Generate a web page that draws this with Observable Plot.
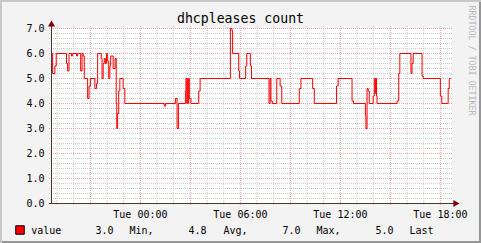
<!DOCTYPE html>
<html><head><meta charset="utf-8">
<script src="https://cdn.jsdelivr.net/npm/d3@7"></script>
<script src="https://cdn.jsdelivr.net/npm/@observablehq/plot@0.6"></script>
<style>
html,body{margin:0;padding:0;background:#f3f3f3;}
#chart{position:relative;width:481px;height:243px;background:#f3f3f3;box-shadow:inset 2px 2px 0 #c8c8c8, inset -2px -2px 0 #969696;overflow:hidden}
#chart svg{position:absolute;left:0;top:0;}
</style></head><body><div id="chart"></div>
<script>
// ---- data (minutes relative to Tue 00:00) ----
const title = "dhcpleases count";
const watermark = "RRDTOOL / TOBI OETIKER";
const seriesName = "value";
const minutes = [-320,-316,-308,-303,-266,-262,-257,-248,-245,-230,-226,-215,-210,-206,-202,-190,-185,-180,-164,-158,-154,-141,-138,-134,-130,-126,-122,-119,-114,-110,-107,-98,-91,-87,-85,-82,-78,-74,-62,-56,
  86,91,126,132,137,162,164,167,169,172,174,176,182,210,215,324,330,332,354,357,379,383,396,400,
  463,467,470,475,491,503,509,572,578,620,626,706,712,762,767,810,812,816,820,824,838,842,845,847,850,852,
  924,930,934,974,978,982,1014,1018,1080,1085,1108,1112,1116];
const values = [6.0,5.2,5.5,6.0,5.6,5.3,6.0,5.9,6.0,5.9,6.0,5.3,6.0,5.9,5.0,4.2,4.7,5.0,4.6,4.8,6.0,5.8,5.0,5.6,5.8,5.6,6.0,5.7,5.0,5.5,5.9,5.4,5.8,4.0,3.0,3.6,4.5,5.0,4.6,4.0,
  3.9,4.0,4.2,3.0,4.0,4.5,5.0,4.0,5.0,4.0,5.0,4.2,4.0,4.5,5.0,7.0,6.9,6.0,5.3,5.0,5.5,6.0,5.5,5.0,
  4.0,5.0,4.1,4.0,5.0,4.7,4.0,4.6,5.0,4.6,4.0,4.7,5.0,4.1,4.0,3.5,3.0,4.6,4.5,4.0,4.3,5.0,4.4,5.0,4.3,4.0,
  4.1,5.2,6.0,5.2,5.6,6.0,5.1,5.0,4.3,4.0,4.6,5.0,5.0];
const yMajor = [0,1,2,3,4,5,6,7];
const yMinor = d3.range(0, 35).map(i => i / 5).filter(v => !Number.isInteger(v));
const xMinorMinutes = d3.range(-300, 1120, 60);
const xMajorMinutes = d3.range(-180, 1120, 180);
const xLabelMinutes = [0, 360, 720, 1080];
const legendStats = [["3.0", "Min,"], ["4.8", "Avg,"], ["7.0", "Max,"], ["5.0", "Last"]];
const domainMinutes = [-320, 1120];

// ---- build ----
const base = Date.UTC(2024, 0, 2); // a Tuesday
const T = m => new Date(base + m * 60000);
const data = minutes.map((m, i) => ({t: T(m), v: values[i]}));
const xMinor = xMinorMinutes.filter(m => !xMajorMinutes.includes(m)).map(T);
const xMajor = xMajorMinutes.map(T);
const xLabels = xLabelMinutes.map(T);
const x0 = T(domainMinutes[0]);
const fmtX = d3.utcFormat("%a %H:%M");
const font = "DejaVu Sans Mono, monospace";
const minorCol = "#cccccc";
const majorCol = "#eeaaaa";
const tickLeft = T(domainMinutes[0] - 7.2);
const tickRight = T(domainMinutes[1] + 7.2);
const xEnd = T(domainMinutes[1]);

const legendX = [95, 129, 188, 223, 282, 316, 375, 409];
const legendTexts = legendStats.flat();

const marks = [
  Plot.frame({fill: "white", stroke: "none"}),
  // minor grid
  Plot.ruleY(yMinor, {x1: tickLeft, x2: tickRight, stroke: minorCol, strokeDasharray: "1,1"}),
  Plot.ruleX(xMinor, {y1: -0.08, y2: 7.08, stroke: minorCol, strokeDasharray: "1,1"}),
  // major grid
  Plot.ruleY(yMajor.slice(1), {x1: tickLeft, x2: tickRight, stroke: majorCol, strokeDasharray: "1,1"}),
  Plot.ruleX(xMajor, {y1: -0.08, y2: 7.08, stroke: majorCol, strokeDasharray: "1,1"}),
  // data
  Plot.line(data, {x: "t", y: "v", curve: "step-after", stroke: "#ff0000", strokeWidth: 1}),
  // axes
  Plot.ruleY([0], {x1: tickLeft, x2: T(1134), stroke: "#4a3434"}),
  Plot.ruleX([x0], {y1: 0, y2: 7.2, stroke: "#4a3434"}),
  Plot.dot([0], {x: T(1134), y: 0, symbol: "triangle", r: 2.6, rotate: 90, fill: "#800000", stroke: "none"}),
  Plot.dot([0], {x: x0, y: 7.16, symbol: "triangle", r: 2.6, fill: "#800000", stroke: "none"}),
  // tick labels
  Plot.text(yMajor, {x: x0, y: d => d, text: d => d.toFixed(1), textAnchor: "end", dx: -7, dy: 0.5, fill: "#000", fontSize: 10, fontFamily: font}),
  Plot.text(xLabels, {x: d => d, y: 0, text: d => fmtX(d), dy: 10.8, fill: "#000", fontSize: 10, fontFamily: font}),
  // title
  Plot.text([title], {frameAnchor: "top-left", dx: 189, dy: -9.7, textAnchor: "middle", lineAnchor: "middle", fontSize: 13.2, fontFamily: font, fill: "#000"}),
  // watermark
  Plot.text([watermark], {frameAnchor: "top-right", dx: 20.5, dy: -23, rotate: 90, textAnchor: "start", lineAnchor: "middle", fontSize: 8.3, fontFamily: font, fill: "#b8b8b8"}),
  // legend
  Plot.dot([0], {frameAnchor: "bottom-left", dx: -31.5, dy: 26.5, symbol: "square", r: 4.8, fill: "#ff0000", stroke: "#000", strokeWidth: 1}),
  Plot.text([seriesName], {frameAnchor: "bottom-left", dx: 30.7 - 51, dy: 26.8, textAnchor: "start", lineAnchor: "middle", fontSize: 10, fontFamily: font, fill: "#000"}),
  ...legendTexts.map((s, i) => Plot.text([s], {frameAnchor: "bottom-left", dx: legendX[i] - 51, dy: 26.8, textAnchor: "start", lineAnchor: "middle", fontSize: 10, fontFamily: font, fill: "#000"}))
];

const chart = Plot.plot({
  width: 481, height: 243,
  marginLeft: 51, marginRight: 30, marginTop: 28, marginBottom: 40,
  x: {type: "utc", domain: [T(domainMinutes[0]), xEnd], axis: null},
  y: {domain: [0, 7], axis: null},
  style: {background: "transparent", fontFamily: font, fontSize: "10px", color: "#000", overflow: "visible"},
  marks
});
document.getElementById("chart").appendChild(chart);
</script>
</body></html>
